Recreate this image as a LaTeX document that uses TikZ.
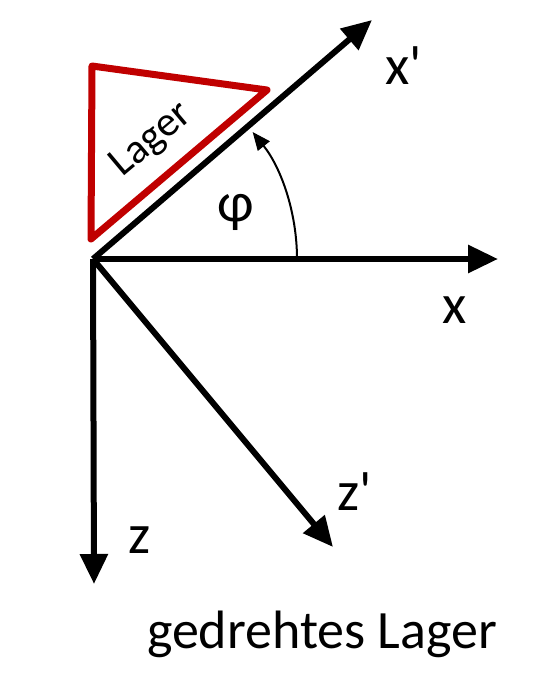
\documentclass[tikz,border=0pt]{standalone}
\usepackage{fontspec}
\setmainfont{Carlito}
\newfontfamily\lblfont{Carlito}
\usetikzlibrary{arrows.meta}
\definecolor{lagerred}{HTML}{C00000}
\begin{document}
\begin{tikzpicture}[x=1pt,y=-1pt,
  axis/.style={line width=6pt,-{Triangle[length=30pt,width=27pt]}},
  lbl/.style={font=\lblfont\fontsize{56}{60}\selectfont,inner sep=0pt},
  tri/.style={draw=lagerred,line width=7pt,line join=round}]
\useasboundingbox (0,0) rectangle (554,688);
\coordinate (O) at (93,259);
\coordinate (xe) at (498,259);
\coordinate (ze) at (94,584);
\coordinate (xpe) at (372,20);
\coordinate (zpe) at (333,547);
\coordinate (t1) at (92,66);
\coordinate (t2) at (267,90);
\coordinate (t3) at (91,239);
\draw[tri] (t1) -- (t2) -- (t3) -- cycle;
\node[rotate=40,font=\fontsize{42}{46}\selectfont,inner sep=0pt] (lager) at (152,140) {Lager};
\draw[axis] (O) -- (xe);
\draw[axis] (O) -- (ze);
\draw[axis] (O) -- (xpe);
\draw[axis] (O) -- (zpe);
\draw[line width=2pt,-{Triangle[length=18pt,width=15pt]}] (297,259) arc[start angle=0,end angle=-38.5,radius=204];
\node[lbl] (xl) at (455,310) {x};
\node[lbl] (xpl) at (404,66) {x'};
\node[lbl] (zl) at (140,540) {z};
\node[lbl] (zpl) at (355,492) {z'};
\node[lbl] (phi) at (236,212) {φ};
\node[font=\fontsize{54}{60}\selectfont,inner sep=0pt] (cap) at (322,634) {gedrehtes Lager};
\end{tikzpicture}
\end{document}
